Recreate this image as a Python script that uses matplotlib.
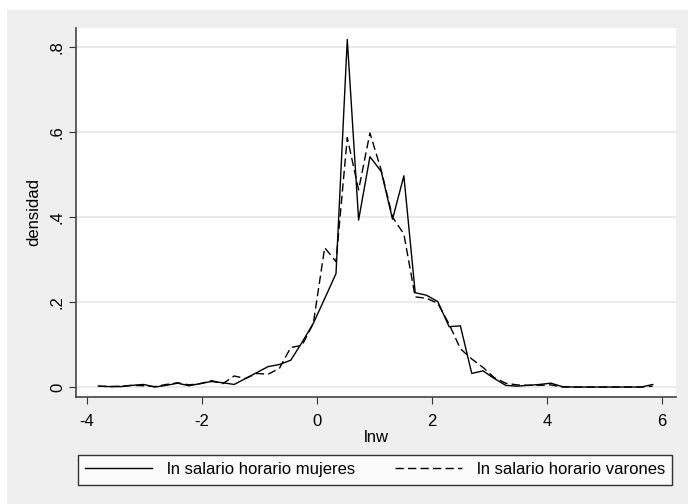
import numpy as np
import matplotlib.pyplot as plt
from matplotlib.patches import Rectangle

plt.rcParams['font.family'] = ['Liberation Sans', 'DejaVu Sans']
plt.rcParams['axes.unicode_minus'] = False

# lnw grid (bin midpoints)
lnw = [-3.800, -3.603, -3.407, -3.210, -3.013, -2.817, -2.620, -2.423, -2.226, -2.030,
       -1.833, -1.636, -1.440, -1.243, -1.046, -0.850, -0.653, -0.456, -0.260, -0.063,
       0.134, 0.331, 0.527, 0.724, 0.921, 1.118, 1.314, 1.511, 1.708, 1.904,
       2.101, 2.298, 2.494, 2.691, 2.888, 3.084, 3.281, 3.478, 3.674, 3.871,
       4.068, 4.265, 4.461, 4.658, 4.855, 5.051, 5.248, 5.445, 5.641, 5.838]

# density, women (solid)
dens_mujeres = [0.002, 0.001, 0.001, 0.004, 0.006, 0.000, 0.004, 0.009, 0.003, 0.008,
                0.013, 0.010, 0.006, 0.020, 0.034, 0.048, 0.053, 0.063, 0.105, 0.150,
                0.208, 0.267, 0.818, 0.393, 0.542, 0.507, 0.395, 0.497, 0.222, 0.216,
                0.201, 0.142, 0.144, 0.032, 0.038, 0.020, 0.004, 0.002, 0.004, 0.006,
                0.009, 0.001, 0.000, 0.000, 0.000, 0.000, 0.000, 0.000, 0.000, 0.006]

# density, men (dashed)
dens_varones = [0.002, 0.001, 0.002, 0.004, 0.003, 0.001, 0.006, 0.010, 0.005, 0.008,
                0.015, 0.008, 0.026, 0.020, 0.032, 0.030, 0.044, 0.093, 0.098, 0.150,
                0.328, 0.295, 0.587, 0.464, 0.598, 0.510, 0.400, 0.360, 0.212, 0.209,
                0.197, 0.148, 0.090, 0.066, 0.046, 0.022, 0.009, 0.005, 0.004, 0.004,
                0.005, 0.000, 0.000, 0.000, 0.000, 0.000, 0.000, 0.000, 0.000, 0.002]

x_ticks = [-4, -2, 0, 2, 4, 6]
y_ticks = [0, 0.2, 0.4, 0.6, 0.8]
y_ticklabels = ['0', '.2', '.4', '.6', '.8']

fig = plt.figure(figsize=(6.88, 5.04), dpi=100, facecolor='white')
# grey graph region (thin white strip on the left and top)
fig.patches.append(Rectangle((7 / 688, 0), 1, 494 / 504, transform=fig.transFigure,
                             facecolor='#efefef', edgecolor='none', zorder=-1))

ax = fig.add_axes([76 / 688, 107 / 504, 600 / 688, 369 / 504])
ax.set_facecolor('white')

ax.plot(lnw, dens_mujeres, color='black', lw=1.0, label='ln salario horario mujeres')
ax.plot(lnw, dens_varones, color='black', lw=1.0, linestyle=(0, (6, 3)),
        label='ln salario horario varones')

ax.set_xlim(-4.19, 6.243)
ax.set_ylim(-0.0235, 0.845)
ax.set_xticks(x_ticks)
ax.set_yticks(y_ticks)
ax.set_yticklabels(y_ticklabels, rotation=90, va='center')
ax.tick_params(labelsize=12, length=5, color='#333333')
ax.tick_params(axis='x', pad=7)
ax.tick_params(axis='y', pad=3)

ax.grid(axis='y', color='#e6e6e6', lw=1.2)
ax.set_axisbelow(True)
for side in ['top', 'right']:
    ax.spines[side].set_visible(False)
for side in ['left', 'bottom']:
    ax.spines[side].set_color('#444444')
    ax.spines[side].set_linewidth(1.2)

ax.set_xlabel('lnw', fontsize=12, labelpad=1)
ax.set_ylabel('densidad', fontsize=12, labelpad=6)

leg = fig.legend(loc='center', bbox_to_anchor=(375 / 688, 1 - 469.5 / 504), ncol=2,
                 fontsize=12, frameon=True, fancybox=False, handlelength=4.0,
                 columnspacing=2.4, borderpad=0.45, handletextpad=0.9)
leg.get_frame().set_edgecolor('black')
leg.get_frame().set_linewidth(1.0)

plt.savefig('out.png', dpi=100, facecolor=fig.get_facecolor())
